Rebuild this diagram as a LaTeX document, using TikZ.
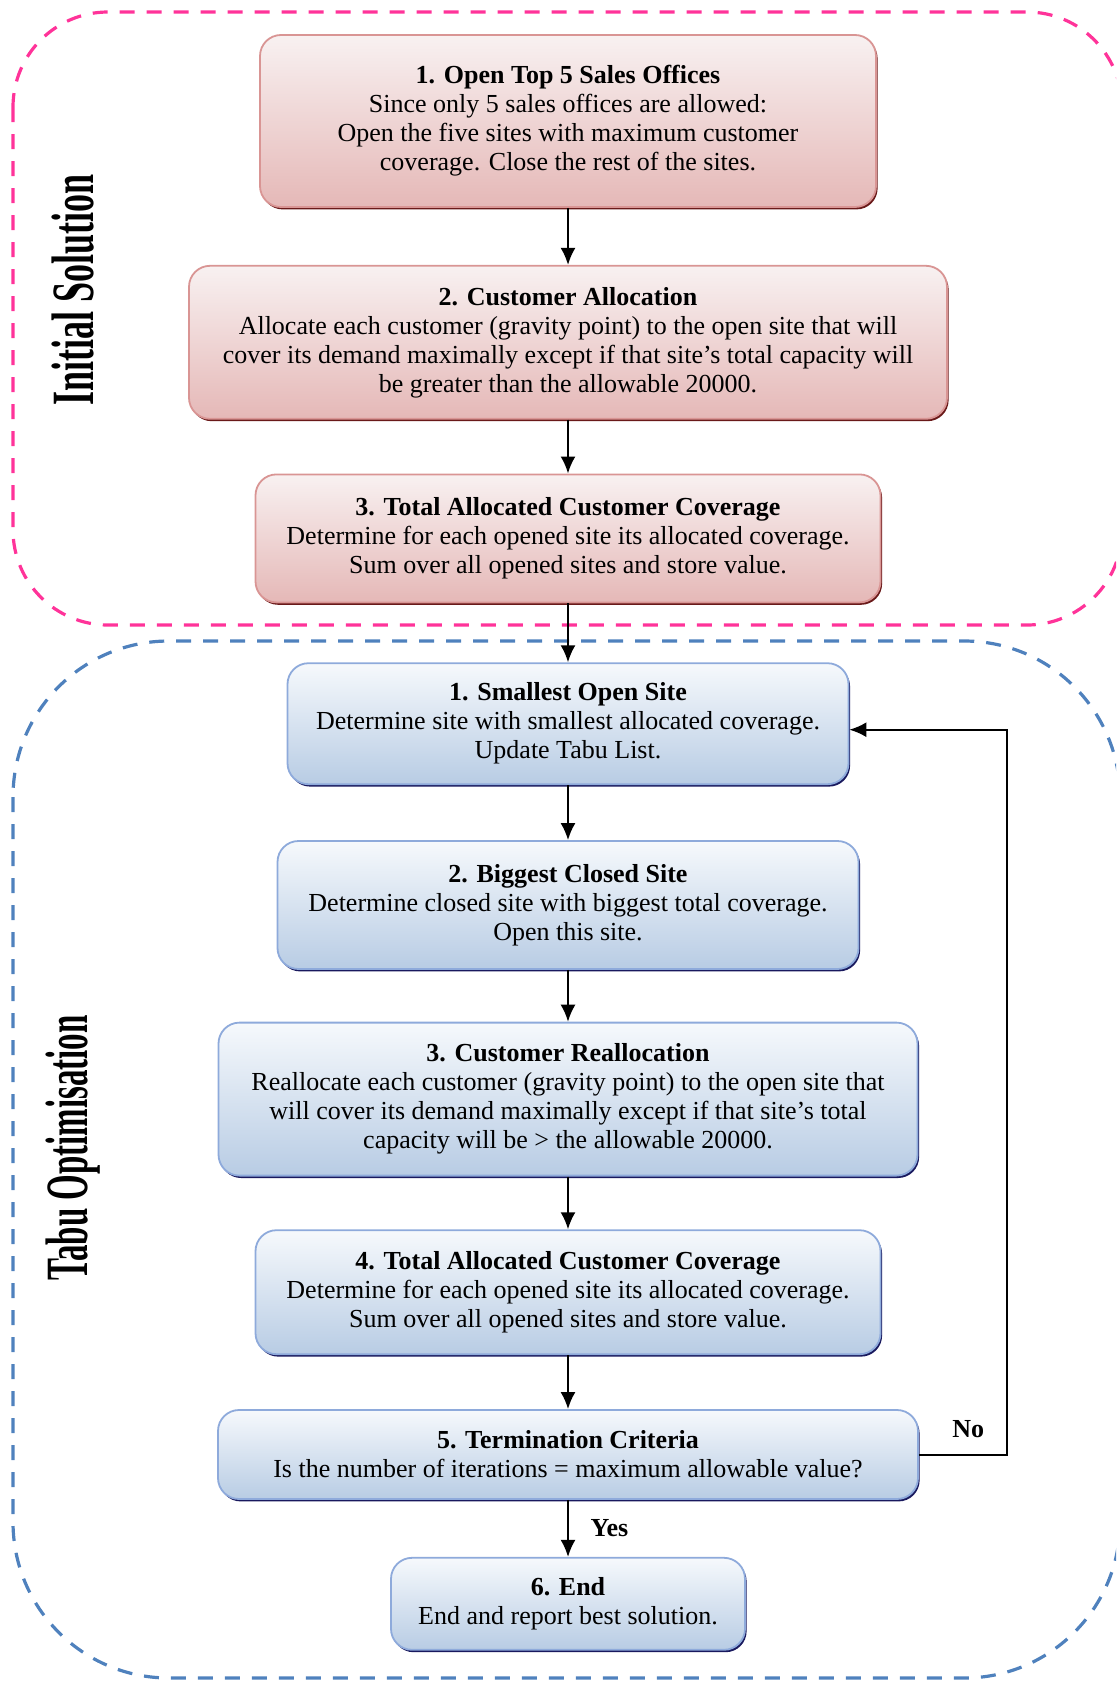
\documentclass[tikz,border=0pt]{standalone}
\usepackage{fontspec}
\setmainfont{Liberation Serif}
\usepackage{tikz}
\usetikzlibrary{arrows, arrows.meta, positioning, shadows}
\definecolor{pinkline}{HTML}{FF3399}
\definecolor{blueline}{HTML}{4F81BD}
\definecolor{redtop}{HTML}{F8F1F1}
\definecolor{redbottom}{HTML}{E5B8B7}
\definecolor{redborder}{HTML}{D99594}
\definecolor{bluetop}{HTML}{F6F9FC}
\definecolor{bluebottom}{HTML}{B8CCE4}
\definecolor{blueborder}{HTML}{8EAADB}
\tikzset{
    node distance=28.5pt, % gap between two boxes
    every node/.style={font=\fontsize{13}{14.5}\selectfont}, % body text of the boxes
}
\tikzstyle{redbox} = [rectangle, rounded corners=10.5pt, draw=redborder, line width=0.9pt, top color=redtop, bottom color=redbottom, align=center, drop shadow={shadow xshift=0.8pt, shadow yshift=-1.2pt, fill=red!35!black, opacity=0.9}]
\tikzstyle{bluebox} = [rectangle, rounded corners=10.5pt, draw=blueborder, line width=0.9pt, top color=bluetop, bottom color=bluebottom, align=center, drop shadow={shadow xshift=0.8pt, shadow yshift=-1.2pt, fill=blue!30!black, opacity=0.9}]
\tikzstyle{arrow} = [line width=1pt, ->, >={Latex[length=8.5pt, width=7.5pt]}]
\tikzstyle{zone} = [line width=1.6pt, dash pattern=on 7.5pt off 6pt]
\tikzstyle{zonelabel} = [rotate=90, font=\fontsize{30}{30}\selectfont\bfseries]

\begin{document}
\begin{tikzpicture}[x=0.5pt, y=-0.5pt]
    \useasboundingbox (0,0) rectangle (1116,1681);
    \clip (0,0) rectangle (1116,1681);

    % the two phases
    \draw[zone, pinkline, rounded corners=47.5pt] (13,12) rectangle (1122,625);
    \draw[zone, blueline, rounded corners=78pt] (13,641) rectangle (1120,1678);
    \node[zonelabel] (initlbl) at (73,290) {\scalebox{0.6}[1]{Initial Solution}};
    \node[zonelabel] (tabulbl) at (73,1148) {\scalebox{0.55}[1]{Tabu Optimisation}};

    \node[redbox, minimum width=308pt, minimum height=86pt] (i1) at (568,121)
        {\textbf{1. Open Top 5 Sales Offices}\\ Since only 5 sales offices are allowed:\\ Open the five sites with maximum customer\\ coverage. Close the rest of the sites.};
    \node[redbox, minimum width=379pt, minimum height=76.5pt, below=of i1] (i2)
        {\textbf{2. Customer Allocation}\\ Allocate each customer (gravity point) to the open site that will\\ cover its demand maximally except if that site’s total capacity will\\ be greater than the allowable 20000.};
    \node[redbox, minimum width=312.5pt, minimum height=64pt, below=26.9pt of i2] (i3)
        {\textbf{3. Total Allocated Customer Coverage}\\ Determine for each opened site its allocated coverage.\\ Sum over all opened sites and store value.};

    \node[bluebox, minimum width=280.5pt, minimum height=60.5pt, below=29.5pt of i3] (t1)
        {\textbf{1. Smallest Open Site}\\ Determine site with smallest allocated coverage.\\ Update Tabu List.};
    \node[bluebox, minimum width=290.5pt, minimum height=64pt, below=27.5pt of t1] (t2)
        {\textbf{2. Biggest Closed Site}\\ Determine closed site with biggest total coverage.\\ Open this site.};
    \node[bluebox, minimum width=349.5pt, minimum height=76.5pt, below=25.9pt of t2] (t3)
        {\textbf{3. Customer Reallocation}\\ Reallocate each customer (gravity point) to the open site that\\ will cover its demand maximally except if that site’s total\\ capacity will be > the allowable 20000.};
    \node[bluebox, minimum width=312.5pt, minimum height=62pt, below=26.4pt of t3] (t4)
        {\textbf{4. Total Allocated Customer Coverage}\\ Determine for each opened site its allocated coverage.\\ Sum over all opened sites and store value.};
    \node[bluebox, minimum width=350pt, minimum height=44.5pt, below=27pt of t4] (t5)
        {\textbf{5. Termination Criteria}\\ Is the number of iterations = maximum allowable value?};
    \node[bluebox, minimum width=177pt, minimum height=46pt, below=of t5] (t6)
        {\textbf{6. End}\\ End and report best solution.};

    \path[arrow]
    (i1) edge (i2)
    (i2) edge (i3)
    (i3) edge (t1)
    (t1) edge (t2)
    (t2) edge (t3)
    (t3) edge (t4)
    (t4) edge (t5)
    (t5) edge node[right=7.5pt] {\textbf{Yes}} (t6);

    % back to step 1 while not finished
    \coordinate (turn) at (1007,1000);
    \draw[arrow] (t5.east) -| node[pos=0.28, above=4.5pt] {\textbf{No}} (turn) |- ([yshift=-3pt]t1.east);
\end{tikzpicture}
\end{document}
